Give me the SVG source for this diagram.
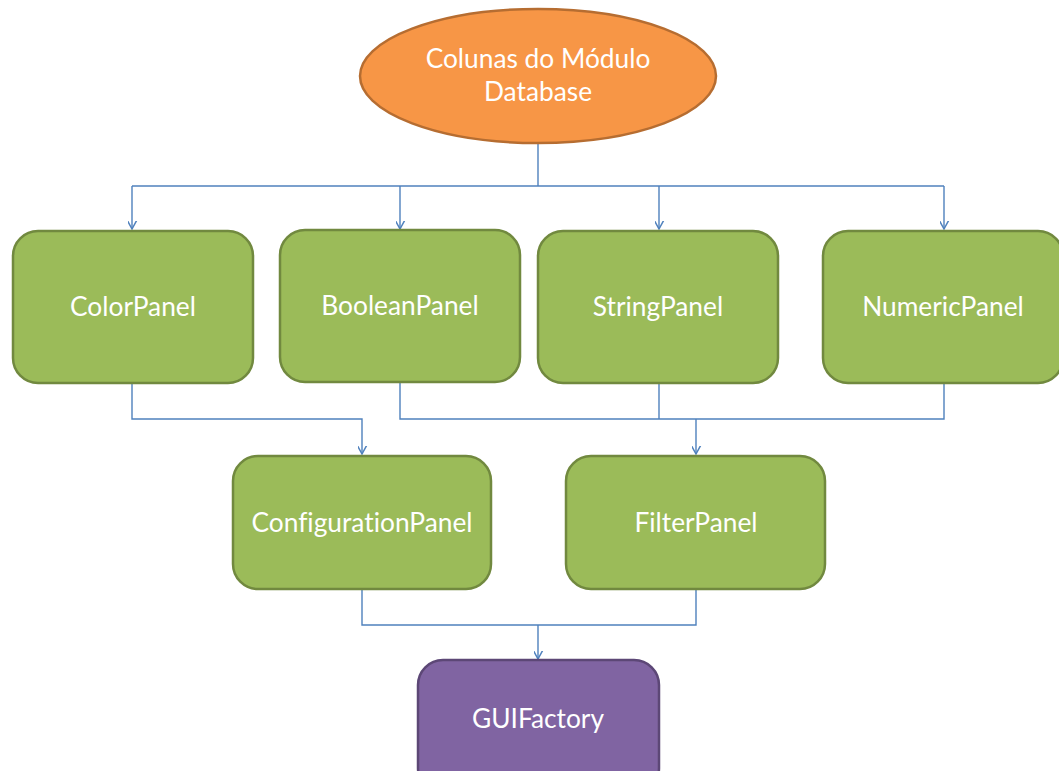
<svg xmlns="http://www.w3.org/2000/svg" width="1059" height="771" viewBox="0 0 1059 771">
<style>
.green{fill:#9BBB59;stroke:#71893F;stroke-width:2.5}
.purple{fill:#8064A2;stroke:#5C4776;stroke-width:2.5}
.orange{fill:#F79646;stroke:#B66D31;stroke-width:2.5}
.lbl{font-family:Lato,"Open Sans","Liberation Sans",sans-serif;font-size:26.3px;fill:#FFFFFF;text-anchor:middle;font-variant-ligatures:none}
.conn{fill:none;stroke:#4F81BD;stroke-width:1.4}
</style>
<defs>
<marker id="arr" markerUnits="userSpaceOnUse" markerWidth="16" markerHeight="16" viewBox="-8 -12 16 16" refX="0" refY="0" orient="auto-start-reverse">
<path d="M-6,-11 L0,0 L6,-11" fill="none" stroke="#4F81BD" stroke-width="1.5" transform="rotate(-90)"/>
</marker>
</defs>
<rect width="1059" height="771" fill="#FFFFFF"/>
<g id="connectors" class="conn">
<path d="M538,143 V186"/>
<path d="M132,186 H944"/>
<path d="M132,186 V229" marker-end="url(#arr)"/>
<path d="M400,186 V229" marker-end="url(#arr)"/>
<path d="M659,186 V229" marker-end="url(#arr)"/>
<path d="M944,186 V229" marker-end="url(#arr)"/>
<path d="M132,383 V419 H362 V454" marker-end="url(#arr)"/>
<path d="M400,383 V419 H944 V383"/>
<path d="M659,383 V419"/>
<path d="M696,419 V454" marker-end="url(#arr)"/>
<path d="M362,590 V625 H696 V590"/>
<path d="M538,625 V659" marker-end="url(#arr)"/>
</g>
<g id="node-colunas">
<ellipse class="orange" cx="538" cy="76" rx="178" ry="67"/>
<text class="lbl" x="538" y="68">Colunas do Módulo</text>
<text class="lbl" x="538" y="101">Database</text>
</g>
<g id="node-colorpanel">
<rect class="green" x="13" y="231" width="240" height="152" rx="25"/>
<text class="lbl" x="133" y="316">ColorPanel</text>
</g>
<g id="node-booleanpanel">
<rect class="green" x="280" y="230" width="240" height="152" rx="25"/>
<text class="lbl" x="400" y="315">BooleanPanel</text>
</g>
<g id="node-stringpanel">
<rect class="green" x="538" y="231" width="240" height="152" rx="25"/>
<text class="lbl" x="658" y="316">StringPanel</text>
</g>
<g id="node-numericpanel">
<rect class="green" x="823" y="231" width="240" height="152" rx="25"/>
<text class="lbl" x="943" y="316">NumericPanel</text>
</g>
<g id="node-configurationpanel">
<rect class="green" x="233" y="456" width="258" height="133" rx="25"/>
<text class="lbl" x="362" y="532">ConfigurationPanel</text>
</g>
<g id="node-filterpanel">
<rect class="green" x="566" y="456" width="259" height="133" rx="25"/>
<text class="lbl" x="696" y="532">FilterPanel</text>
</g>
<g id="node-guifactory">
<rect class="purple" x="418" y="660" width="241" height="133" rx="25"/>
<text class="lbl" x="538" y="728">GUIFactory</text>
</g>
</svg>
